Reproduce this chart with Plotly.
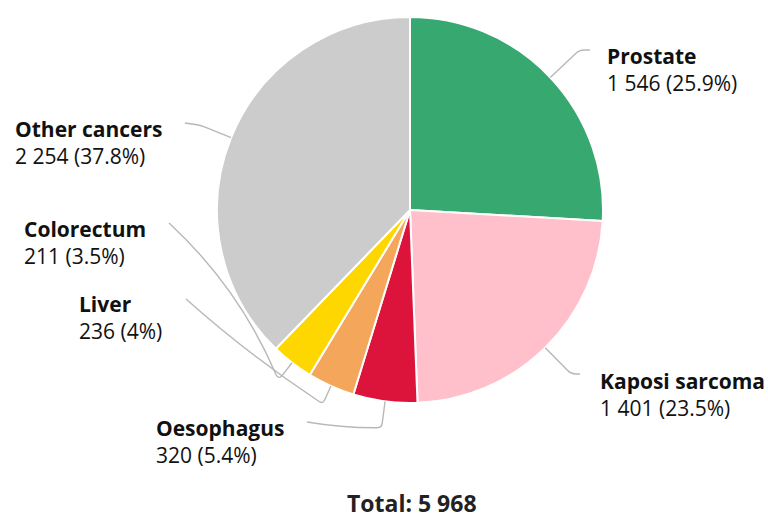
import math
import plotly.graph_objects as go

# ---- data ----
labels = ["Prostate", "Kaposi sarcoma", "Oesophagus", "Liver", "Colorectum", "Other cancers"]
values = [1546, 1401, 320, 236, 211, 2254]
colors = ["#37a86f", "#ffc0cb", "#dc143c", "#f4a75a", "#ffd700", "#cccccc"]

# ---- layout constants (pixels) ----
W, H = 768, 521
CX, CY, R = 410, 210, 193
# label block: left x, block centre y; leader line: end point, radial crook distance, bow
label_layout = {
    "Prostate":       dict(tx=605, ty=69,  ex=590, ey=50,  d=40, bow=0),
    "Kaposi sarcoma": dict(tx=598, ty=394, ex=580, ey=374, d=37, bow=0),
    "Oesophagus":     dict(tx=154, ty=441, ex=307, ey=422, d=27, bow=-3),
    "Liver":          dict(tx=77,  ty=317, ex=186, ey=299, d=20, bow=-6),
    "Colorectum":     dict(tx=22,  ty=242, ex=169, ey=223, d=21, bow=20),
    "Other cancers":  dict(tx=13,  ty=142, ex=185, ey=123, d=33, bow=0),
}

total = sum(values)


def px(x):
    return x / W


def py(y):
    return 1 - y / H


def fmt_num(v):
    return f"{v:,}".replace(",", " ")


def fmt_pct(v):
    p = round(100 * v / total, 1)
    return f"{p:g}%"


fig = go.Figure(go.Pie(
    labels=labels,
    values=values,
    sort=False,
    direction="clockwise",
    rotation=0,
    marker=dict(colors=colors, line=dict(color="white", width=2)),
    textinfo="none",
    hoverinfo="label+value+percent",
    showlegend=False,
    domain=dict(x=[px(CX - R), px(CX + R)], y=[py(CY + R), py(CY - R)]),
))

shapes = []
annotations = []
cum = 0
for lab, v in zip(labels, values):
    mid = (cum + v / 2) / total * 2 * math.pi
    cum += v
    L = label_layout[lab]
    ux, uy = math.sin(mid), -math.cos(mid)
    p0 = (CX + R * ux, CY + R * uy)
    p1 = (CX + (R + L["d"]) * ux, CY + (R + L["d"]) * uy)
    e = (L["ex"], L["ey"])
    rc = 5
    a = (p1[0] - rc * ux, p1[1] - rc * uy)
    vx, vy = e[0] - p1[0], e[1] - p1[1]
    vl = math.hypot(vx, vy)
    vx, vy = vx / vl, vy / vl
    rb = min(rc, vl * 0.5)
    b = (p1[0] + rb * vx, p1[1] + rb * vy)
    mx, my = (b[0] + e[0]) / 2, (b[1] + e[1]) / 2
    nx, ny = -vy, vx
    ctrl = (mx + L["bow"] * nx, my + L["bow"] * ny)
    path = (f"M {px(p0[0])},{py(p0[1])} L {px(a[0])},{py(a[1])} "
            f"Q {px(p1[0])},{py(p1[1])} {px(b[0])},{py(b[1])} "
            f"Q {px(ctrl[0])},{py(ctrl[1])} {px(e[0])},{py(e[1])}")
    shapes.append(dict(type="path", path=path, xref="paper", yref="paper",
                       line=dict(color="#b8b8b8", width=1.4)))
    annotations.append(dict(
        x=px(L["tx"]), y=py(L["ty"]), xref="paper", yref="paper",
        xanchor="left", yanchor="middle", align="left", showarrow=False,
        text=f"<b>{lab}</b><br>{fmt_num(v)} ({fmt_pct(v)})",
        font=dict(family="Open Sans", size=21, color="#111111"),
    ))

annotations.append(dict(
    x=px(CX + 2), y=py(503), xref="paper", yref="paper",
    xanchor="center", yanchor="middle", showarrow=False,
    text=f"<b>Total: {fmt_num(total)}</b>",
    font=dict(family="Open Sans", size=23, color="#222222"),
))

fig.update_layout(
    width=W, height=H,
    margin=dict(l=0, r=0, t=0, b=0),
    paper_bgcolor="white", plot_bgcolor="white",
    shapes=shapes, annotations=annotations,
    font=dict(family="Open Sans"),
)

fig.write_html("out.html", config={"displayModeBar": False},
               post_script="document.body.style.margin='0';")
